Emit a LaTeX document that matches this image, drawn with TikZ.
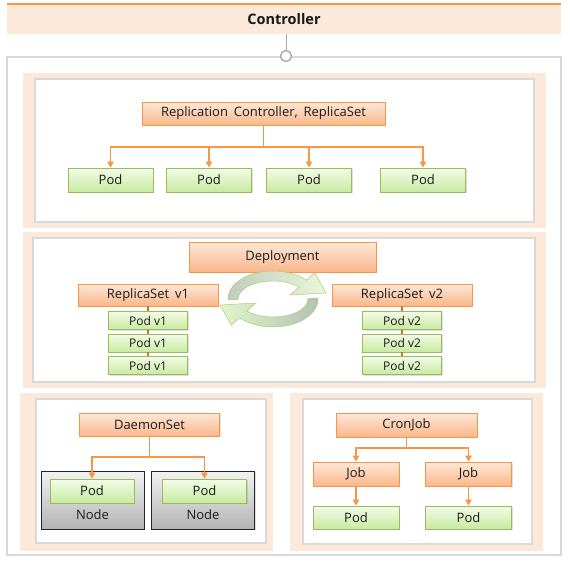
\documentclass[tikz,border=0pt]{standalone}
\usepackage{fontspec}
\setmainfont{Open Sans}
\usetikzlibrary{arrows.meta,shadows}
\definecolor{orgline}{HTML}{F79646}
\definecolor{orgtop}{HTML}{FDE8D8}
\definecolor{orgbot}{HTML}{FAB78A}
\definecolor{grnline}{HTML}{9BBB59}
\definecolor{grntop}{HTML}{F3FBE8}
\definecolor{grnbot}{HTML}{C8EAA0}
\definecolor{bandfill}{HTML}{FDE9D9}
\definecolor{panelline}{HTML}{D9D9D9}
\definecolor{hubline}{HTML}{A6A6A6}
\definecolor{stemline}{HTML}{C87533}
\definecolor{txt}{HTML}{1A1A1A}
\def\bigtxt{\fontsize{13}{15}\selectfont}
\def\smalltxt{\fontsize{12}{14}\selectfont}
\def\gap{\hspace{0.45em}}

\tikzset{
	obox/.style={rectangle, draw=orgline, line width=0.9pt, top color=orgtop, bottom color=orgbot,
		inner sep=0pt, text=txt, font=\bigtxt,
		drop shadow={shadow xshift=1.2pt, shadow yshift=-1.2pt, opacity=0.25}},
	gbox/.style={obox, draw=grnline, top color=grntop, bottom color=grnbot},
	nbox/.style={rectangle, draw=black!85, line width=0.9pt, top color=black!5, bottom color=black!30,
		inner sep=0pt, drop shadow={shadow xshift=1.2pt, shadow yshift=-1.2pt, opacity=0.25}},
	conn/.style={draw=orgline, line width=1.2pt},
	arr/.style={conn, -{Triangle[length=6pt, width=6.5pt]}},
	stem/.style={draw=stemline, line width=1.8pt},
	band/.style={fill=bandfill},
	panel/.style={fill=white, draw=panelline, line width=1.2pt},
	cyc/.style={draw=grnline!80, line width=0.5pt}
}

\begin{document}
\begin{tikzpicture}[x=1pt, y=-1pt]
		%%%%% START %%%%%
		\useasboundingbox (0,0) rectangle (570,562);
		
		\node[fill=bandfill, minimum width=554, minimum height=30, inner sep=0pt,
			font=\fontsize{14.5}{16}\selectfont\bfseries, text=txt] (ctrl) at (284,19) {Controller};
		\draw[orgline, line width=2pt] (ctrl.north west) -- (ctrl.north east);
		
		\draw[panelline, line width=2.5pt] (7,57) rectangle (561,555);
		\node[circle, draw=hubline, line width=1.3pt, fill=white, minimum size=11, inner sep=0pt] (hub) at (286,56) {};
		\draw[hubline, line width=0.8pt] (ctrl.south -| hub) -- (hub.north);
		
		%%%%% REPLICATION CONTROLLER %%%%%
		\fill[band] (23,73) rectangle (546,228);
		\draw[panel] (35,79) rectangle (534,222);
		
		\node[obox, minimum width=243, minimum height=23] (rc) at (263.5,113.5) {Replication\gap Controller,\gap ReplicaSet};
		\node[gbox, minimum width=85, minimum height=24] (rcpod1) at (110.5,180) {Pod};
		\node[gbox, minimum width=85, minimum height=24] (rcpod2) at (209,180) {Pod};
		\node[gbox, minimum width=85, minimum height=24] (rcpod3) at (309,180) {Pod};
		\node[gbox, minimum width=85, minimum height=24] (rcpod4) at (423,180) {Pod};
		
		\coordinate (rcj) at (263.5,147);
		\draw[conn] (rc.south) -- (rcj);
		\foreach \p in {1,...,4}
			\draw[arr] (rcj) -| (rcpod\p.north);
		
		%%%%% DEPLOYMENT %%%%%
		\fill[band] (23,232) rectangle (546,388);
		\draw[panel] (33,238) rectangle (535,382);
		
		\node[obox, minimum width=187, minimum height=30] (dep) at (282.5,257) {Deployment};
		\node[obox, minimum width=140, minimum height=22] (rs1) at (148,295) {ReplicaSet\gap v1};
		\node[obox, minimum width=140, minimum height=22] (rs2) at (402,295) {ReplicaSet\gap v2};
		
		\foreach \n/\y in {a/320.5, b/343, c/365.5} {
			\node[gbox, font=\smalltxt, minimum width=79, minimum height=18] (pv1\n) at (148,\y) {Pod v1};
			\node[gbox, font=\smalltxt, minimum width=79, minimum height=18] (pv2\n) at (402,\y) {Pod v2};
		}
		\draw[stem] (rs1) -- (pv1a);
		\draw[stem] (pv1a) -- (pv1b);
		\draw[stem] (pv1b) -- (pv1c);
		\draw[stem] (rs2) -- (pv2a);
		\draw[stem] (pv2a) -- (pv2b);
		\draw[stem] (pv2b) -- (pv2c);
		
		\begin{scope}[shift={(273,299)}, yscale=-1]
			\path[cyc, left color=green!20!black!25, right color=grntop!80!grnbot]
				(182:45 and 28) arc[start angle=182, end angle=42, x radius=45, y radius=28]
				-- (42:56 and 39) -- (53,6) -- (42:23 and 6) -- (42:35 and 18)
				arc[start angle=42, end angle=182, x radius=35, y radius=18] -- cycle;
			\path[cyc, left color=grntop!60!grnbot, right color=green!20!black!30]
				(2:45 and 28) arc[start angle=2, end angle=-138, x radius=45, y radius=28]
				-- (-138:56 and 39) -- (-53,-6) -- (-138:23 and 6) -- (-138:35 and 18)
				arc[start angle=-138, end angle=2, x radius=35, y radius=18] -- cycle;
		\end{scope}
		
		%%%%% DAEMONSET %%%%%
		\fill[band] (20,393) rectangle (273,551);
		\draw[panel] (36,399) rectangle (266,543);
		
		\node[obox, minimum width=140, minimum height=23] (ds) at (149.5,424.5) {DaemonSet};
		\node[nbox, minimum width=103, minimum height=58] (node1) at (92.5,500) {};
		\node[nbox, minimum width=103, minimum height=58] (node2) at (203,500) {};
		\node[gbox, minimum width=84, minimum height=24] (dspod1) at (92,491) {Pod};
		\node[gbox, minimum width=84, minimum height=24] (dspod2) at (204.5,491) {Pod};
		\node[font=\bigtxt, text=txt] (nodelbl1) at (92.5,514.5) {Node};
		\node[font=\bigtxt, text=txt] (nodelbl2) at (203,514.5) {Node};
		
		\coordinate (dsj) at (149.5,457);
		\draw[conn] (ds.south) -- (dsj);
		\draw[arr] (dsj) -| (dspod1.north);
		\draw[arr] (dsj) -| (dspod2.north);
		
		%%%%% CRONJOB %%%%%
		\fill[band] (290,393) rectangle (543,551);
		\draw[panel] (303,399) rectangle (532,544);
		
		\node[obox, minimum width=141, minimum height=24] (cron) at (406.5,425) {CronJob};
		\node[obox, minimum width=86, minimum height=24] (job1) at (356,474) {Job};
		\node[obox, minimum width=86, minimum height=24] (job2) at (468.5,474) {Job};
		\node[gbox, minimum width=86, minimum height=23] (jpod1) at (356,517.5) {Pod};
		\node[gbox, minimum width=86, minimum height=23] (jpod2) at (468.5,517.5) {Pod};
		
		\coordinate (cronj) at (406.5,448);
		\draw[conn] (cron.south) -- (cronj);
		\draw[arr] (cronj) -| (job1.north);
		\draw[arr] (cronj) -| (job2.north);
		\draw[arr] (job1) -- (jpod1);
		\draw[arr] (job2) -- (jpod2);
		
		%%%%% END %%%%%
	\end{tikzpicture}
\end{document}
